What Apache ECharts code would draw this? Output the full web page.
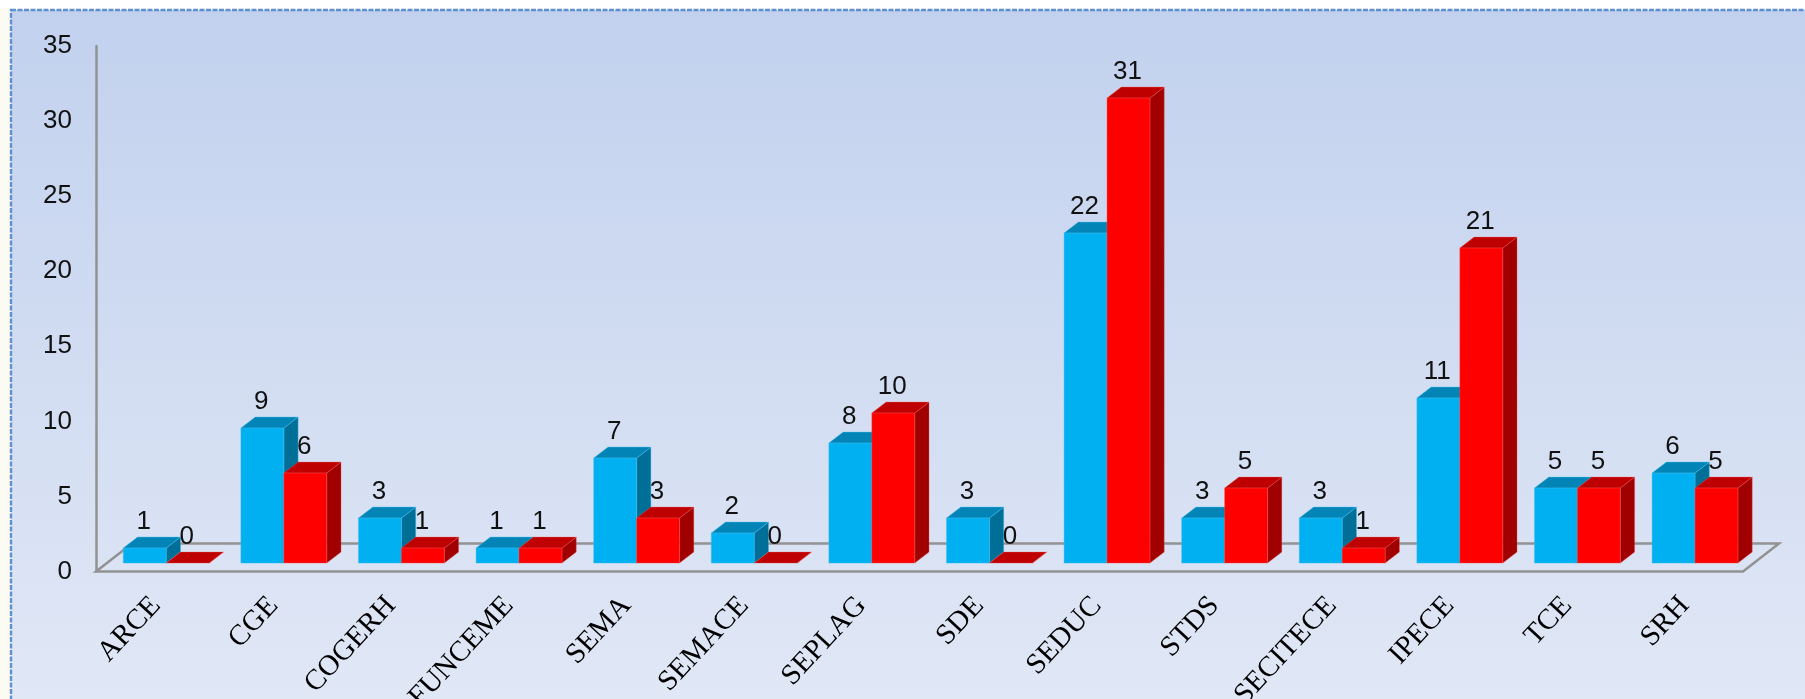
<!DOCTYPE html>
<html>
<head>
<meta charset="utf-8">
<style>html,body{margin:0;padding:0;background:#fff;overflow:hidden}#c{width:1805px;height:699px}</style>
<script src="https://cdn.jsdelivr.net/npm/echarts@6/dist/echarts.min.js"></script>
</head>
<body>
<div id="c"></div>
<script>
const categories = ['ARCE','CGE','COGERH','FUNCEME','SEMA','SEMACE','SEPLAG','SDE','SEDUC','STDS','SECITECE','IPECE','TCE','SRH'];
const blueValues = [1,9,3,1,7,2,8,3,22,3,3,11,5,6];
const redValues = [0,6,1,1,3,0,10,0,31,5,1,21,5,5];
const yTicks = [0,5,10,15,20,25,30,35];

const BAR_RATIO = 0.365, DX = 14.3, DY = 11;
const blueStyle = {front:'#00b0f0', top:'#0285b6', side:'#006f98', edge:'rgba(70,190,240,0.55)'};
const redStyle = {front:'#ff0000', top:'#bf0000', side:'#a00000', edge:'rgba(240,90,90,0.45)'};

function cube(side, colors){
  return function(params, api){
    const i = api.value(0), v = api.value(1);
    const top = api.coord([i, v]), base = api.coord([i, 0]);
    const w = api.size([1,0])[0] * BAR_RATIO;
    const x0 = side < 0 ? top[0] - w : top[0], x1 = x0 + w;
    const y0 = base[1], y1 = top[1];
    const st = (c)=>({fill:c, stroke:colors.edge, lineWidth:0.8});
    const kids = [
      {type:'polygon', shape:{points:[[x1,y0],[x1+DX,y0-DY],[x1+DX,y1-DY],[x1,y1]]}, style:st(colors.side)},
      {type:'polygon', shape:{points:[[x0,y1],[x1,y1],[x1+DX,y1-DY],[x0+DX,y1-DY]]}, style:st(colors.top)}
    ];
    if (v > 0) kids.push({type:'rect', shape:{x:x0,y:y1,width:w,height:y0-y1}, style:st(colors.front)});
    return {type:'group', children:kids};
  };
}
function label(side){
  return function(params, api){
    const i = api.value(0), v = api.value(1);
    const top = api.coord([i, v]);
    const w = api.size([1,0])[0] * BAR_RATIO;
    return {type:'text', style:{
      x: top[0] + side*w/2 - 1, y: top[1] - 26, text: String(v),
      align:'center', verticalAlign:'middle',
      font:'26px "Liberation Sans"', fill:'#111'
    }};
  };
}
function floor(params, api){
  const a = api.coord([0,0]), b = api.coord([1,0]);
  const bx = 36, by = 28;
  return {type:'polygon', shape:{points:[a,b,[b[0]+bx,b[1]-by],[a[0]+bx,a[1]-by]]},
    style:{fill:'none', stroke:'#929292', lineWidth:2.5}};
}
const pairs = (arr)=>arr.map((v,i)=>[i,v]);
const base = {type:'custom', xAxisIndex:0, yAxisIndex:0, encode:{x:0,y:1}, clip:false, silent:true};

const chart = echarts.init(document.getElementById('c'), null, {renderer:'canvas'});
chart.setOption({
  animation:false,
  backgroundColor:'#fff',
  graphic:[
    {type:'rect', z:-10, silent:true, shape:{x:0,y:8,width:11,height:691}, style:{fill:'#fbfbf3'}},
    {type:'rect', z:-9, silent:true, shape:{x:11,y:10,width:1800,height:700},
      style:{fill:{type:'linear',x:0,y:0,x2:0,y2:1,colorStops:[{offset:0,color:'#c2d1ee'},{offset:1,color:'#e1e8f6'}]},
        stroke:'#5f90cf', lineWidth:2.4, lineDash:[5,1.5]}}
  ],
  grid:[
    {left:107.4, width:1646.4, top:38.1, height:525, outerBoundsMode:'none'},
    {left:96, width:1647, top:46, height:525.5, outerBoundsMode:'none'}
  ],
  xAxis:[
    {type:'category', gridIndex:0, data:categories, axisLine:{show:false}, axisTick:{show:false},
      splitLine:{show:false},
      axisLabel:{interval:0, rotate:47, margin:27, padding:[0,15,0,0], color:'#000', fontFamily:'Liberation Serif', fontSize:29}},
    {type:'value', gridIndex:1, min:0, max:1, show:false}
  ],
  yAxis:[
    {type:'value', gridIndex:0, min:0, max:35, interval:5, show:false},
    {type:'value', gridIndex:1, min:yTicks[0], max:yTicks[yTicks.length-1], interval:5,
      axisLine:{show:true, lineStyle:{color:'#929292', width:2.5}}, axisTick:{show:false}, splitLine:{show:false},
      axisLabel:{margin:24, color:'#111', fontFamily:'Liberation Sans', fontSize:26}}
  ],
  series:[
    {type:'custom', xAxisIndex:1, yAxisIndex:1, encode:{x:0,y:1}, clip:false, silent:true, z:1, data:[[0,0]], renderItem:floor},
    {...base, z:2, data:pairs(blueValues), renderItem:cube(-1, blueStyle)},
    {...base, z:3, data:pairs(redValues), renderItem:cube(1, redStyle)},
    {...base, z:4, data:pairs(blueValues), renderItem:label(-1)},
    {...base, z:4, data:pairs(redValues), renderItem:label(1)}
  ]
});
</script>
</body>
</html>
